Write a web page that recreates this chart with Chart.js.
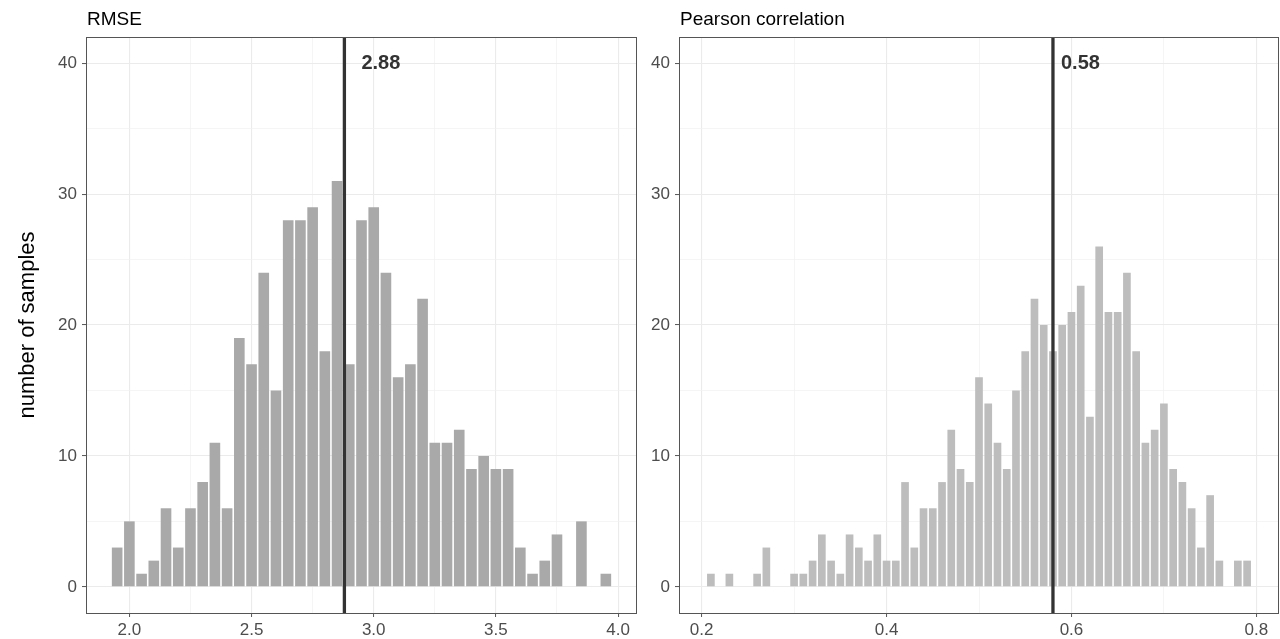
<!DOCTYPE html>
<html>
<head>
<meta charset="utf-8">
<script src="https://cdn.jsdelivr.net/npm/chart.js@4"></script>
<style>
  html, body { margin: 0; padding: 0; background: #fff; }
  .panel { position: absolute; top: 0; width: 640px; height: 639px; }
</style>
</head>
<body>
<div class="panel" style="left:0"><canvas id="rmseChart" width="640" height="639"></canvas></div>
<div class="panel" style="left:640px"><canvas id="pearsonChart" width="640" height="639"></canvas></div>
<script>
// histogram bin centres and counts
const rmseBins = [1.95, 2.00, 2.05, 2.10, 2.15, 2.20, 2.25, 2.30, 2.35, 2.40,
  2.45, 2.50, 2.55, 2.60, 2.65, 2.70, 2.75, 2.80, 2.85, 2.90,
  2.95, 3.00, 3.05, 3.10, 3.15, 3.20, 3.25, 3.30, 3.35, 3.40,
  3.45, 3.50, 3.55, 3.60, 3.65, 3.70, 3.75, 3.80, 3.85, 3.90, 3.95]
const rmseCounts = [3, 5, 1, 2, 6, 3, 6, 8, 11, 6,
  19, 17, 24, 15, 28, 28, 29, 18, 31, 17,
  28, 29, 24, 16, 17, 22, 11, 11, 12, 9,
  10, 9, 9, 3, 1, 2, 4, 0, 5, 0, 1]
const rmseMedian = 2.88
const rmseXRange = [1.8225, 4.0775]
const rmseMajorTicks = [2.0, 2.5, 3.0, 3.5, 4.0]
const rmseMinorTicks = [2.25, 2.75, 3.25, 3.75]

const pearsonBins = [0.21, 0.22, 0.23, 0.24, 0.25, 0.26, 0.27, 0.28, 0.29, 0.30,
  0.31, 0.32, 0.33, 0.34, 0.35, 0.36, 0.37, 0.38, 0.39, 0.40,
  0.41, 0.42, 0.43, 0.44, 0.45, 0.46, 0.47, 0.48, 0.49, 0.50,
  0.51, 0.52, 0.53, 0.54, 0.55, 0.56, 0.57, 0.58, 0.59, 0.60,
  0.61, 0.62, 0.63, 0.64, 0.65, 0.66, 0.67, 0.68, 0.69, 0.70,
  0.71, 0.72, 0.73, 0.74, 0.75, 0.76, 0.77, 0.78, 0.79]
const pearsonCounts = [1, 0, 1, 0, 0, 1, 3, 0, 0, 1,
  1, 2, 4, 2, 1, 4, 3, 2, 4, 2,
  2, 8, 3, 6, 6, 8, 12, 9, 8, 16,
  14, 11, 9, 15, 18, 22, 20, 18, 20, 21,
  23, 13, 26, 21, 21, 24, 18, 11, 12, 14,
  9, 8, 6, 3, 7, 2, 0, 2, 2]
const pearsonMedian = 0.58
const pearsonXRange = [0.1755, 0.8245]
const pearsonMajorTicks = [0.2, 0.4, 0.6, 0.8]
const pearsonMinorTicks = [0.3, 0.5, 0.7]

const countRange = [-2, 42]
const countMajorTicks = [0, 10, 20, 30, 40]
const countMinorTicks = [5, 15, 25, 35]
const markerLabelAt = 40

const FONT = '"Liberation Sans", Arial, sans-serif'
Chart.defaults.font.family = FONT

function isIn(list, v) {
  return list.some(t => Math.abs(t - v) < 1e-6)
}

function gridStyle(major) {
  return {
    color: ctx => isIn(major, ctx.tick.value) ? '#EBEBEB' : '#F1F1F1',
    lineWidth: ctx => isIn(major, ctx.tick.value) ? 1.1 : 0.7,
    tickColor: ctx => isIn(major, ctx.tick.value) ? '#555' : 'rgba(0,0,0,0)',
    tickWidth: 1,
    tickLength: 4,
    offset: false
  }
}

// panel title, median line + label, panel border
function decor(cfg) {
  return {
    id: 'decor',
    afterDatasetsDraw(chart) {
      const { ctx, chartArea, scales } = chart
      const x = scales.x.getPixelForValue(cfg.median)
      ctx.save()
      ctx.strokeStyle = '#333'
      ctx.lineWidth = 3.3
      ctx.beginPath()
      ctx.moveTo(x, chartArea.top)
      ctx.lineTo(x, chartArea.bottom)
      ctx.stroke()
      ctx.fillStyle = '#333'
      ctx.font = 'bold 20px ' + FONT
      ctx.textBaseline = 'middle'
      ctx.fillText(cfg.median.toFixed(2), x + cfg.labelOffset, scales.y.getPixelForValue(markerLabelAt))
      ctx.restore()
    },
    afterDraw(chart) {
      const { ctx, chartArea } = chart
      ctx.save()
      ctx.strokeStyle = '#555'
      ctx.lineWidth = 1
      ctx.strokeRect(Math.round(chartArea.left) + 0.5, Math.round(chartArea.top) + 0.5,
        Math.round(chartArea.right - chartArea.left) - 1, Math.round(chartArea.bottom - chartArea.top))
      ctx.fillStyle = '#000'
      ctx.font = '19px ' + FONT
      ctx.textBaseline = 'alphabetic'
      ctx.fillText(cfg.title, chartArea.left + 1, 25)
      ctx.restore()
    }
  }
}

function makeHistogram(canvasId, cfg) {
  const xTicks = [...cfg.major, ...cfg.minor].sort((a, b) => a - b)
  const yTicks = [...countMajorTicks, ...countMinorTicks].sort((a, b) => a - b)
  return new Chart(document.getElementById(canvasId), {
    type: 'bar',
    data: {
      datasets: [{
        data: cfg.bins.map((b, i) => ({ x: b, y: cfg.counts[i] })),
        backgroundColor: cfg.fill,
        borderWidth: 0,
        barPercentage: cfg.barPercentage,
        categoryPercentage: 1
      }]
    },
    options: {
      responsive: false,
      animation: false,
      layout: { padding: { top: 37, right: cfg.padRight, bottom: 0, left: 0 } },
      plugins: { legend: { display: false }, tooltip: { enabled: false } },
      scales: {
        x: {
          type: 'linear',
          offset: false,
          min: cfg.xRange[0],
          max: cfg.xRange[1],
          afterBuildTicks: s => { s.ticks = xTicks.map(v => ({ value: v })) },
          afterFit: s => { s.height = 26 },
          grid: gridStyle(cfg.major),
          border: { display: false },
          ticks: {
            autoSkip: false,
            maxRotation: 0,
            padding: 3,
            color: '#4D4D4D',
            font: { size: 17 },
            callback: v => isIn(cfg.major, v) ? v.toFixed(1) : ''
          }
        },
        y: {
          type: 'linear',
          min: countRange[0],
          max: countRange[1],
          afterBuildTicks: s => { s.ticks = yTicks.map(v => ({ value: v })) },
          afterFit: s => { s.width = cfg.yWidth },
          grid: gridStyle(countMajorTicks),
          border: { display: false },
          title: {
            display: !!cfg.yTitle,
            text: cfg.yTitle || '',
            color: '#000',
            font: { size: 22 },
            padding: { top: 15, bottom: 0 }
          },
          ticks: {
            autoSkip: false,
            padding: 5,
            color: '#4D4D4D',
            font: { size: 17 },
            callback: v => isIn(countMajorTicks, v) ? String(v) : ''
          }
        }
      }
    },
    plugins: [decor(cfg)]
  })
}

makeHistogram('rmseChart', {
  bins: rmseBins, counts: rmseCounts, median: rmseMedian,
  xRange: rmseXRange, major: rmseMajorTicks, minor: rmseMinorTicks,
  title: 'RMSE', yTitle: 'number of samples',
  fill: '#A9A9A9', barPercentage: 0.87,
  yWidth: 86, padRight: 3, labelOffset: 17
})

makeHistogram('pearsonChart', {
  bins: pearsonBins, counts: pearsonCounts, median: pearsonMedian,
  xRange: pearsonXRange, major: pearsonMajorTicks, minor: pearsonMinorTicks,
  title: 'Pearson correlation', yTitle: null,
  fill: '#BDBDBD', barPercentage: 0.83,
  yWidth: 39, padRight: 1, labelOffset: 8
})
</script>
</body>
</html>
